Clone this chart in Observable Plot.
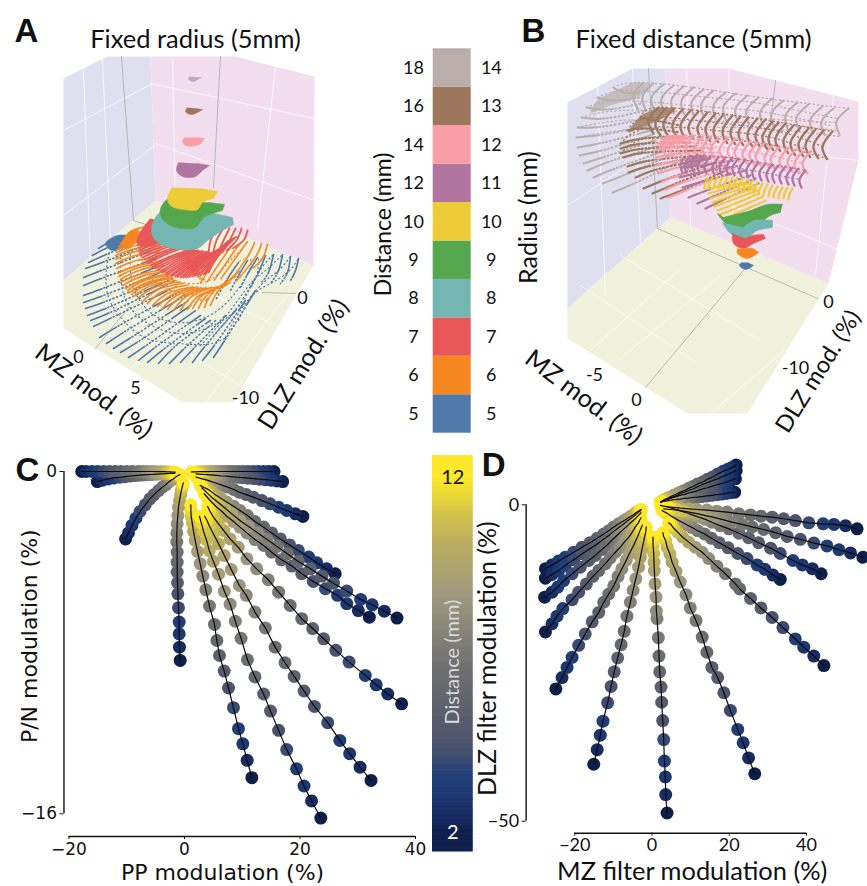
<!DOCTYPE html>
<html><head><meta charset="utf-8">
<script src="https://cdn.jsdelivr.net/npm/d3@7"></script>
<script src="https://cdn.jsdelivr.net/npm/@observablehq/plot@0.6"></script>
<style>
html,body{margin:0;padding:0;background:#fff}
#fig{position:relative;width:867px;height:886px;overflow:hidden}
#fig svg{position:absolute;overflow:visible;background:transparent}
</style></head><body><div id="fig"></div>
<script>
// ---------- shared category lists ----------
const legendLeft  = ["5","6","7","8","9","10","12","14","16","18"];
const legendRight = ["5","6","7","8","9","10","11","12","13","14"];
const shellColors = ["#4e79a9","#f68620","#e85858","#74b6b1","#55a74d","#eecb38","#b176a0","#f99da9","#9d775d","#b9aeaa"];
const wallLeft="#dfdff0", wallRight="#f2deee", wallFloor="#f0f2dd";
const distances = [2,2.5,3,3.5,4,4.5,5,5.5,6,6.5,7,7.5,8,8.5,9,9.5,10,10.5,11,11.5,12];
const cmapDomain = [2,2.2,3.15,3.6,4.2,4.9,6.7,8.6,10,11,11.6,12];
const cmapRange = ["#0f1f4c","#14265a","#1f3a74","#233f78","#45506f","#54596b","#707170","#9e9880","#b8ab62","#d6c648","#efdc30","#fde82a"];

// ---------- panel C: PP modulation (x) / P/N modulation (y), one row per ray, 2 mm → 12 mm ----------
const cX = [
[-17.8,-17,-16,-15,-14,-13,-12,-11,-10,-9,-8,-7.2,-6.4,-5.6,-4.9,-4.2,-3.6,-3,-2.5,-2,-1.6],
[-15.1,-14.2,-13.2,-12.2,-11.2,-10.3,-9.4,-8.6,-7.8,-7.1,-6.4,-5.8,-5.2,-4.7,-4.2,-3.7,-3.3,-2.9,-2.5,-2.1,-1.7],
[-10.2,-9.7,-9.1,-8.4,-7.7,-6.8,-6,-5.3,-4.5,-3.8,-3.2,-2.8,-2.4,-2,-1.7,-1.5,-1.3,-1.1,-1,-.9,-.8],
[-.75,-.87,-.92,-.92,-1.04,-1.15,-1.21,-1.27,-1.27,-1.27,-1.33,-1.33,-1.27,-1.15,-1.04,-.87,-.69,-.55,-.4,-.29,-.2],
[11.66,10.85,10.1,9.35,8.48,7.62,6.87,6.06,5.6,5.19,4.33,3.69,3.17,2.71,2.25,1.85,1.56,1.33,1.15,1.1,1.1],
[23.6,22,20.7,19.4,17.7,16.3,14.9,13.7,12.2,10.9,9.8,8.8,7.9,6.9,5.9,5,4.3,3.8,3.3,2.9,2.6],
[32.3,30.4,28.6,26.9,24.8,22.5,20.7,19,17.4,15.7,14,12.2,10.7,9.5,8.1,6.9,5.9,5,4.3,3.9,3.5],
[37.6,35.2,33.2,31.3,28.5,26.2,24.1,22.2,20.3,18.3,16.3,14.5,12.5,10.8,9.3,7.9,6.8,5.9,5,4.4,4],
[36.8,34.6,32.5,30.5,28.1,25.8,23.8,21.8,19.7,17.8,16,14.3,12.7,11.1,9.6,8.2,7,5.9,4.8,3.9,3],
[32,30.1,28.1,26.5,24.4,22.3,20.3,18.6,16.8,15.1,13.7,12.2,10.8,9.6,8.5,7.3,6.5,5.6,4.8,4.1,3.4],
[26.1,24.6,22.9,21.5,19.7,18.2,16.6,15.1,13.7,12.2,10.9,9.6,8.5,7.3,6.3,5.3,4.6,3.9,3.4,3,2.7],
[20.5,19.2,17.7,16.3,14.8,13.4,11.9,10.7,9.5,8.5,7.5,6.6,5.7,5,4.3,3.8,3.3,2.9,2.5,2.3,2],
[17,16,15,14,13,12,11,10,9.2,8.4,7.6,6.9,6.2,5.6,5,4.5,4,3.5,3,2.5,2],
[15.5,14.6,13.7,12.8,11.9,11,10.2,9.4,8.6,7.9,7.2,6.5,5.9,5.3,4.7,4.1,3.6,3,2.5,1.9,1.2]
];
const cY = [
[0,0,0,0,0,0,0,0,0,0,0,0,0,0,-.01,-.01,-.01,-.02,-.02,-.03,-.03],
[-.47,-.41,-.35,-.3,-.27,-.24,-.21,-.19,-.17,-.16,-.15,-.14,-.13,-.12,-.11,-.11,-.1,-.1,-.09,-.09,-.09],
[-3.15,-2.87,-2.52,-2.18,-1.87,-1.56,-1.28,-1.09,-.89,-.73,-.61,-.5,-.42,-.36,-.3,-.25,-.22,-.19,-.17,-.16,-.14],
[-8.83,-8.21,-7.59,-7.04,-6.37,-5.72,-5.2,-4.7,-4.24,-3.77,-3.3,-2.87,-2.45,-2.06,-1.67,-1.36,-1.09,-.89,-.73,-.62,-.53],
[-14.31,-13.5,-12.73,-12.02,-11.04,-10.12,-9.33,-8.6,-7.9,-7.15,-6.29,-5.53,-4.89,-4.31,-3.74,-3.22,-2.8,-2.4,-2.09,-1.82,-1.56],
[-16.2,-15.4,-14.7,-13.9,-13,-12.1,-11.2,-10.4,-9.6,-8.8,-7.8,-7,-6.2,-5.6,-4.8,-4.2,-3.7,-3.2,-2.8,-2.4,-2.1],
[-14.44,-13.82,-13.19,-12.57,-11.74,-10.98,-10.26,-9.58,-8.94,-8.21,-7.31,-6.57,-5.79,-5.33,-4.58,-3.93,-3.38,-2.91,-2.55,-2.29,-2.09],
[-10.86,-10.4,-9.97,-9.53,-8.91,-8.36,-7.82,-7.34,-6.88,-6.26,-5.64,-5.06,-4.55,-4.08,-3.54,-3.15,-2.76,-2.45,-2.13,-1.85,-1.64],
[-6.85,-6.53,-6.23,-5.98,-5.59,-5.22,-4.89,-4.55,-4.21,-3.85,-3.5,-3.18,-2.87,-2.57,-2.29,-1.98,-1.71,-1.46,-1.23,-1,-.76],
[-6.81,-6.5,-6.18,-5.79,-5.48,-5.14,-4.78,-4.42,-4.13,-3.77,-3.46,-3.18,-2.87,-2.6,-2.34,-2.09,-1.87,-1.67,-1.46,-1.25,-1.04],
[-4.78,-4.55,-4.27,-4,-3.69,-3.43,-3.15,-2.87,-2.6,-2.34,-2.06,-1.82,-1.62,-1.43,-1.25,-1.08,-.93,-.81,-.75,-.69,-.65],
[-2.1,-1.98,-1.82,-1.67,-1.51,-1.36,-1.2,-1.08,-.97,-.84,-.73,-.65,-.56,-.5,-.44,-.39,-.36,-.33,-.3,-.28,-.26],
[-.47,-.44,-.41,-.38,-.36,-.33,-.31,-.29,-.27,-.25,-.23,-.21,-.2,-.18,-.17,-.16,-.15,-.14,-.13,-.12,-.11],
[0,0,0,0,0,0,0,0,0,0,0,0,0,0,0,-.01,-.01,-.01,-.01,-.02,-.02]
];

// ---------- panel D: MZ filter modulation (x) / DLZ filter modulation (y) ----------
const dX = [
[3.89,3.54,3.45,3.2,3.02,2.76,2.5,2.33,1.99,1.81,1.64,1.3,1.12,1.04,.78,.6,.52,.43,.26,.26,.26],
[26.6,25,23.6,22.2,20.3,18.6,17,15.5,14.2,13,11.4,9.9,8.8,7.3,6.2,5.2,4.6,3.9,3.5,3,2.8],
[44.5,41.9,39.3,37.1,33.9,31.1,28.2,25.5,22.7,21.6,19,16.8,14.7,13,11.2,9.5,7.9,6.6,5.6,5,4.3],
[33.2,31.3,29.2,27.2,24.6,22.2,19.7,17.4,15.4,13.6,11.8,10.4,9.1,7.8,6.7,5.6,4.7,4.1,3.5,3,2.6],
[43.8,41.5,38.9,36.5,33.2,30.7,27.6,25,22.5,19.9,17.7,15.5,13.8,12.1,10.4,9.1,7.8,6.7,5.6,4.7,4.1],
[54.6,51.4,48.4,45.3,41.9,38.4,35,32,28.9,25.9,23.3,20.7,18.1,16,13.8,11.7,9.9,8.2,6.5,4.7,3],
[53.1,50.1,47.1,44.3,40.6,37.1,34.1,31.1,28.2,25.5,22.5,19.4,16.8,14.2,11.7,9.5,7.3,5.6,4.1,3,2.2],
[21.8,20.7,19.6,18.4,17,15.7,14.4,13.1,11.8,10.6,9.5,8.4,7.3,6.5,5.6,4.7,4.1,3.5,3,2.6,2.2],
[21.8,20.7,19.6,18.4,17,15.7,14.4,13.1,11.8,10.6,9.5,8.4,7.3,6.5,5.6,4.7,4.1,3.5,3,2.6,2.2],
[21.6,20.5,19.4,18.2,16.9,15.6,14.3,13,11.7,10.5,9.4,8.3,7.2,6.4,5.5,4.7,4,3.5,3,2.5,2.2],
[21.4,20.3,19.2,18,16.8,15.5,14.2,12.9,11.6,10.4,9.3,8.2,7.1,6.3,5.4,4.6,4,3.4,2.9,2.5,2.2],
[-15.1,-14.2,-13.4,-12.7,-11.5,-10.6,-9.8,-8.9,-8,-7.2,-6.5,-5.6,-4.9,-4.2,-3.5,-3,-2.6,-2.2,-1.9,-1.6,-1.5],
[-24.9,-23.3,-22,-20.7,-19,-17.3,-15.5,-13.8,-12.5,-11.2,-9.9,-8.8,-7.8,-6.7,-5.9,-5,-4.3,-3.7,-3.2,-2.85,-2.5],
[-27.6,-25.9,-24.6,-23.1,-20.7,-19,-17,-15.3,-13.8,-12.1,-10.8,-9.5,-8.2,-7.2,-6,-5.2,-4.6,-4.1,-3.5,-3.2,-2.85],
[-27.8,-25.9,-24.4,-22.9,-20.7,-18.6,-16.4,-14.7,-13,-11.7,-10.4,-9.1,-8,-6.9,-6,-5.4,-4.7,-4.1,-3.7,-3.3,-2.85],
[-27.6,-25.9,-24.2,-22.5,-20.3,-18.1,-16.1,-14.2,-12.5,-11.2,-9.9,-8.6,-7.5,-6.5,-5.6,-4.9,-4.3,-3.9,-3.5,-3.1,-2.85],
[-27.6,-25.9,-24.2,-22.5,-20.3,-18.1,-16.1,-14.2,-12.5,-11.2,-9.9,-8.6,-7.5,-6.5,-5.6,-4.9,-4.3,-3.9,-3.5,-3.1,-2.85]
];
const dY = [
[-48.7,-45.8,-43,-40.5,-37.1,-34.1,-31.2,-28.8,-26.4,-23.9,-21,-18,-16.8,-14.6,-12.5,-10.4,-9.06,-7.7,-6.4,-5.6,-5.1],
[-42.5,-40,-37.6,-35.5,-32.5,-29.7,-27.3,-25.7,-23.3,-20.9,-18.3,-16.3,-14.2,-12.2,-10.5,-9.06,-7.75,-6.7,-5.6,-5,-4.4],
[-25.4,-23.9,-22.5,-21.2,-19.4,-17.8,-16.3,-14.8,-13.3,-12.5,-10.9,-9.7,-8.5,-7.5,-6.7,-5.9,-5.1,-4.3,-3.7,-3.2,-2.85],
[-11.8,-11.1,-10.2,-9.5,-8.5,-7.7,-6.8,-6,-5.3,-4.6,-4.1,-3.6,-3.2,-2.75,-2.4,-2,-1.7,-1.4,-1.2,-1.05,-.9],
[-10.9,-10.1,-9.5,-8.8,-7.7,-6.85,-6,-5.2,-4.5,-3.8,-3.3,-2.75,-2.3,-1.95,-1.6,-1.3,-1.05,-.84,-.63,-.47,-.37],
[-8.3,-7.6,-7.1,-6.5,-6.05,-5.45,-5,-4.4,-3.9,-3.5,-3.1,-2.75,-2.3,-2,-1.7,-1.4,-1.2,-1,-.84,-.74,-.63],
[-3.8,-3.3,-3.1,-3,-2.85,-2.5,-2.2,-1.95,-1.8,-1.6,-1.4,-1.15,-1,-.84,-.74,-.63,-.53,-.42,-.32,-.21,-.1],
[6.3,5.9,5.6,5.3,4.85,4.4,4.05,3.6,3.3,2.9,2.6,2.25,2,1.75,1.5,1.25,1.05,.9,.74,.58,.42],
[5.4,5.1,4.8,4.5,4.1,3.85,3.5,3.2,2.85,2.5,2.25,2,1.75,1.5,1.3,1.1,.95,.8,.7,.58,.42],
[4.1,3.9,3.6,3.4,3.2,2.95,2.7,2.5,2.2,2,1.85,1.6,1.5,1.3,1.15,1,.84,.74,.63,.53,.42],
[2,1.9,1.8,1.7,1.6,1.5,1.4,1.3,1.2,1.15,1.05,1,.9,.84,.8,.7,.63,.58,.53,.47,.42],
[-41,-38.7,-36.4,-34.2,-31.3,-28.7,-26.4,-24.2,-22.1,-20,-17.6,-15.4,-13.5,-11.7,-9.85,-8.3,-7,-5.9,-5,-4.2,-3.5],
[-29.1,-27.3,-25.7,-24.1,-22.2,-20.4,-18.5,-17,-15.4,-14.1,-12.8,-11.3,-10.1,-8.8,-7.75,-6.7,-5.8,-5,-4.2,-3.7,-3.2],
[-20.1,-18.8,-17.6,-16.4,-15,-13.8,-12.5,-11.3,-10.4,-9.3,-8.4,-7.5,-6.7,-5.9,-5.1,-4.4,-3.8,-3.3,-2.85,-2.4,-2.05],
[-14.6,-13.8,-13,-12,-10.9,-9.85,-8.8,-8,-7.06,-6.4,-5.6,-4.85,-4.2,-3.6,-3.1,-2.75,-2.4,-2.05,-1.8,-1.55,-1.26],
[-11.6,-11,-10.4,-9.6,-8.7,-7.75,-6.95,-6.2,-5.4,-4.85,-4.2,-3.6,-3.1,-2.6,-2.2,-1.9,-1.6,-1.4,-1.15,-1,-.84],
[-10.1,-9.5,-8.9,-8.3,-7.5,-6.7,-6,-5.3,-4.6,-4.1,-3.5,-3,-2.6,-2.2,-1.85,-1.6,-1.3,-1.15,-1,-.84,-.74]
];

// ---------- panels A and B: projected (view-plane) outlines ----------
const aWalls = [
 [wallLeft,[63,78,107,56,150,56,155,200,63,280]],
 [wallRight,[150,56,235,56,314,76,313,265,155,200]],
 [wallFloor,[155,200,313,265,233,402,182,402,63,328,63,280]]];
const aGridWhite = [[172,58,175,208],[275,66,257,230],[150,83,314,118],[155,143,314,200],[83,68,90,265],[102,58,110,240],[63,130,152,83],[63,215,154,145],[110,352,200,270],[205,402,290,290],[127,370,215,290],[100,300,240,385],[135,255,275,325]];
const aGridGray = [[121,56,133,220],[220,56,213,187],[133,220,145,224],[262,292,295,293],[95,348,128,307]];
const aBlue = [[98,248,112,240,125,235],[92,255,110,246,135,238],[88,262,108,253,140,240],[85,268,107,260,145,245],[83,277,106,268,150,250],[83,285,106,276,155,258],[83,295,107,286,160,265],[83,302,108,293,165,270],[85,308,110,299,170,275],[87,315,112,305,172,278],[90,320,114,310,175,280],[93,326,118,314,178,285],[99,337,124,322,182,290],[106,343,131,327,185,295],[113,348,137,333,188,300],[120,352,144,337,190,305],[128,357,150,342,195,310],[138,360,160,343,200,315],[147,362,168,345,205,318],[158,363,178,343,210,320],[169,363,187,345,215,320],[180,362,197,344,225,315],[192,362,206,344,235,310],[202,360,216,342,245,300],[213,357,226,337,255,290],[298,258,295,270,290,280],[290,256,287,272,280,283],[282,254,278,270,270,283],[273,254,268,272,260,283],[265,255,258,272,250,287],[257,257,248,272,240,287],[247,260,238,275,230,290],[238,262,226,280,215,300]];
const aBlueRings = [[112,240,106,268,107,293,118,314,144,337,178,343,206,344,226,337],[122,240,120,265,122,290,132,310,155,327,185,333,212,325,235,310,250,287,257,272,258,258],[130,245,130,270,135,292,150,312,175,322,205,317,230,298,248,272,250,258],[213,335,238,305,258,272,273,254],[200,345,226,315,250,283,265,270,282,254],[225,337,240,310,262,283,278,270,290,256],[238,320,252,295,270,283,287,272,298,258]];
const aOrange = [[128,233,145,226,170,225],[124,238,142,231,172,230],[120,243,140,236,175,235],[118,246,141,238,176,237],[117,249,140,241,178,240],[116,252,140,244,179,242],[115,255,140,247,180,244],[115,259,140,250,182,247],[115,263,140,254,185,250],[116,268,141,259,188,254],[117,273,142,264,190,258],[118,276,143,266,191,260],[120,279,145,268,192,262],[120,282,147,272,195,266],[122,285,148,274,196,268],[125,288,149,277,198,270],[127,290,151,278,199,272],[129,292,153,280,200,274],[131,294,155,281,201,276],[133,296,157,283,203,278],[137,298,160,285,204,279],[142,301,163,287,206,280],[147,303,167,289,209,282],[152,305,172,291,212,284],[157,306,176,292,213,284],[162,308,180,293,215,285],[167,309,184,294,217,285],[173,310,189,294,220,285],[180,310,194,294,222,285],[187,309,199,295,225,285],[192,308,203,294,227,284],[198,308,208,293,230,282],[204,307,213,291,235,276],[210,305,219,289,240,270],[267,244,262,258,252,268],[261,243,254,258,228,290],[254,242,246,258,222,290],[247,241,232,262,205,300],[240,242,226,262,200,300],[233,243,218,264,195,300],[226,245,212,264,190,298]];
const aOrangeRings = [[145,226,140,250,147,272,163,287,189,294,208,293,219,289,235,265,246,258],[160,230,155,255,165,275,190,283,212,278,228,262,240,250]];
const aRed = [[138,235,160,226,185,218],[137.5,237.5,160,228.5,185,221],[137,240,160,231,185,224],[137,242.5,160,233.5,186,226],[137,245,160,236,188,229],[137.5,247.5,161,238.5,189,231],[138,250,162,241,190,234],[139,252.5,163,243,191,236],[140,255,165,245,192,238],[142,257,166,247,193,239],[144,259,168,249,194,241],[145.5,261,169,250.5,195,242],[147,263,170,252,196,244],[150,265,172,255,198,247],[152,266.5,174,256,199,248],[155,268,176,257,200,249],[157,269.5,178,258,201,249],[160,271,180,259,203,250],[162,272,182,260,204,250],[165,273,184,261,206,251],[167,274,186,261.5,207,251],[170,275,188,262,208,252],[172,275.5,190,262.5,210,252],[175,276,192,263,212,252],[177,276.5,194,263,214,251],[180,277,196,263,216,250],[183,277,198,263,218,249],[186,277,200,263,220,248],[189,276.5,202,262.5,222,246],[192,276,205,262,224,245],[194,275.5,207,261,226,242],[197,275,210,260,228,240],[200,274.5,212,259,230,239],[203,274,214,258,232,238],[205,273,216,256,234,237],[208,272,218,255,236,236],[247,230,243,240,232,248],[241,228,236,240,226,250],[235,228,229,240,222,252],[229,228,223,240,217,254],[223,228,216,240,212,256],[217,229,210,240,208,258]];
const aSolids = [
 [0,[127,235,117,235,105,243,112,250,125,243]],
 [1,[138,227,128,232,121,245,128,248,138,238]],
 [2,[150,218,138,235,137,243,148,246,165,235,175,225]],
 [3,[163,208,155,217,151,227,153,237,163,245,180,249,197,248,207,240,217,233,233,224,233,224,232,217,232,217,213,213]],
 [4,[166,199,160,208,161,217,170,225,183,228,195,227,203,217,222,210,222,210,224,204,224,204,208,202]],
 [5,[172,187,172,187,167,197,170,205,183,209,197,209,202,202,213,198,213,198,217,191,217,191,200,188]],
 [6,[178,162,176,170,182,176,195,176,202,170,209,165,209,165,197,163]],
 [7,[185,137,182,140,185,145,195,145,200,143,204,138,204,138,195,137]],
 [8,[187,107,185,111,190,114,195,113,202,109,202,109,195,108]],
 [9,[189,76,188,79,193,81,197,79,201,77,201,77]]];

const bWalls = [
 [wallLeft,[567,102,632,68,665,68,670,217,657,228,567,308]],
 [wallRight,[665,68,728,68,858,101,858,160,828,283,670,217]],
 [wallFloor,[657,228,670,217,828,283,747,413,687,413,567,338,567,308]]];
const bGridWhite = [[686,68,690,225],[728,68,733,243],[833,95,815,275],[668,138,858,160],[670,180,840,250],[597,87,605,295],[632,68,640,243],[567,205,668,138],[620,358,720,275],[710,413,790,345],[590,350,680,268],[580,285,700,365],[620,255,760,340]];
const bGridGray = [[648,68,657,228],[775,80,767,150],[657,228,817,298],[743,270,645,387]];
const bTanHump = [632,82,650,84,640,95,610,105,590,112,598,98];
const bBrownHump = [657,107,675,109,662,118,640,127,628,132,640,115];
const bPinkHump = [672,134,690,136,678,143,665,147,658,147,662,138];
const bPurpleHump = [695,155,708,157,698,164,690,168,685,168,688,159];
const bTan = [[848,108,836,121,840,136],[833,108,821,121,825,136],[822,106,810,119,813,134],[808,104,796,117,800,132],[797,102,785,115,788,130],[783,100,771,113,774,128],[772,98,760,111,763,126],[758,97,746,110,749,125],[747,95,735,108,738,123],[735,93,723,106,726,121],[725,92,713,105,716,120],[713,90,701,103,704,118],[703,89,691,102,694,117],[693,87,681,100,684,115],[683,86,671,99,674,114],[673,85,661,98,664,113],[663,84,651,97,655,112],[653,83,642,96,646,111],[643,82,633,95,638,110]];
const bTanLeft = [[612,192,640,180,680,160],[602,183,630,172,670,155],[593,177,620,166,665,150],[587,170,612,160,660,145],[583,163,608,155,655,140],[579,155,605,149,650,135],[577,147,603,142,650,130],[576,137,603,134,648,125],[577,127,603,126,645,118],[581,117,605,118,645,110],[586,107,607,109,640,103],[597,97,612,100,640,97],[613,87,623,92,640,92]];
const bTanRows = [[613,87,640,82,700,88,760,97,848,108],[597,97,630,90,700,96,760,103,836,118],[586,107,620,100,690,105,760,111,830,125],[581,117,620,110,690,112,760,118,836,122],[577,127,620,120,680,120,760,123,838,130],[576,137,620,130,680,127,760,128,840,136]];
const bBrown = [[832,131,822,146,827,159],[823,130,813,145,818,158],[815,129,805,144,810,157],[808,128,798,143,803,156],[800,127,790,142,795,155],[793,125,783,140,788,153],[785,123,775,138,780,151],[778,122,768,137,773,150],[772,121,762,136,767,149],[765,119,755,134,760,147],[757,118,747,133,752,146],[748,117,738,132,743,145],[740,116,730,131,735,144],[732,115,722,130,727,143],[723,114,713,129,718,142],[715,113,705,128,710,141],[707,112,697,127,702,140],[698,111,688,126,693,139],[690,110,680,125,685,138],[682,109,672,124,677,137],[673,108,663,123,668,136],[665,108,655,122,660,135],[658,107,648,120,653,133]];
const bBrownLeft = [[640,117,650,119,680,125],[627,130,645,128,680,132],[620,143,642,138,685,137],[620,148,643,143,690,142],[620,153,644,148,695,146],[623,157,646,152,700,150],[627,166,650,160,700,155],[628,172,652,165,705,155],[635,177,660,168,710,158],[643,188,668,178,715,162],[652,193,678,182,720,165],[660,198,686,188,725,170]];
const bBrownRows = [[640,117,658,107,720,113,780,122,832,131],[627,130,650,117,715,122,775,130,822,146],[620,143,650,127,715,130,775,138,827,159],[620,153,650,137,715,138,775,145,815,155]];
const bPink = [[810,151,802,163,807,173],[802,151,794,163,799,173],[795,149,787,161,792,171],[787,148,779,160,784,170],[778,147,770,159,775,169],[772,145,764,157,769,167],[763,143,755,155,760,165],[757,142,749,154,754,164],[750,141,742,153,747,163],[742,139,734,151,739,161],[735,138,727,150,732,160],[727,137,719,149,724,159],[718,137,710,149,715,159],[710,136,702,148,707,158],[702,136,694,148,699,158],[693,135,685,147,690,157],[685,135,677,147,682,157],[677,135,669,147,674,157],[668,135,662,146,666,156]];
const bPinkLeft = [[668,197,690,188,730,172],[665,189,688,180,730,168],[662,181,686,173,728,164],[658,173,682,166,725,160],[656,165,680,160,722,156],[655,157,678,153,718,152],[654,150,676,147,715,148],[656,143,675,141,712,144],[660,138,675,138,708,140]];
const bPinkRows = [[660,138,680,135,730,137,770,145,810,151],[655,150,680,145,730,148,770,155,802,163],[655,160,680,155,730,157,770,165,807,173]];
const bPurple = [[805,170,799,179,801,187],[798,168,792,177,794,185],[792,167,786,176,788,184],[785,166,779,175,781,183],[778,165,772,174,774,182],[772,164,766,173,768,181],[765,163,759,172,761,180],[758,162,752,171,754,179],[752,160,746,169,748,177],[745,159,739,168,741,176],[738,158,732,167,734,175],[732,157,726,166,728,174],[725,157,719,166,721,174],[718,157,712,166,714,174],[710,156,704,165,706,173],[703,155,697,164,699,172],[697,154,691,163,693,171],[690,155,684,164,686,172],[683,158,680,165,682,172]];
const bPurpleLeft = [[705,208,728,197,760,182],[697,203,722,192,755,178],[688,197,714,187,750,175],[682,187,706,180,745,170],[679,177,700,172,740,165],[682,167,700,165,735,160]];
const bPurpleRows = [[682,167,700,156,740,159,805,170],[680,175,700,165,740,168,799,179]];
const bYellow = [[792,188,789,194,788,199],[787,187,784,193,783,198],[782,187,779,193,778,198],[777,186,774,192,773,197],[772,185,769,191,768,196],[767,184,764,190,763,195],[762,183,759,189,758,194],[757,182,754,188,753,193],[752,180,749,186,748,191],[747,179,744,185,743,190],[742,178,739,184,738,189],[737,177,734,183,733,188],[732,177,729,183,728,188],[727,177,724,183,723,188],[722,177,719,183,718,188],[717,177,714,183,713,188],[712,177,709,183,708,188],[707,178,705,183,704,188]];
const bYellowLeft = [[723,218,745,209,770,198],[720,214,742,205,767,194],[717,210,740,201,765,190],[714,206,738,197,762,188],[712,202,735,194,758,187],[710,198,732,191,755,185],[708,193,730,187,750,183],[707,188,726,185,745,182]];
const bSolids = [
 [4,[782,204,782,204,767,204,750,210,723,217,723,217,717,213,725,223,733,228,747,228,760,222,770,215,780,212,780,212]],
 [3,[722,222,730,233,745,238,757,230,772,227,772,227,772,220,772,220,753,220,743,227]],
 [2,[732,233,733,243,743,248,753,243,765,238,765,238,763,234,763,234,752,235,745,238]],
 [1,[737,248,737,253,747,258,758,252,758,252,752,248,745,248]],
 [0,[741,262,739,265,745,269,753,265,753,265,747,262]]];

// ---------- helpers ----------
const fig = document.getElementById("fig");
function place(svg,left,top){svg.style.left=left+"px";svg.style.top=top+"px";fig.appendChild(svg);}
const rayRows=(X,Y)=>X.flatMap((xs,r)=>xs.map((x,i)=>({ray:r,d:distances[i],x,y:Y[r][i]})));
const ptsOf=(flat,id)=>{const o=[];for(let i=0;i<flat.length;i+=2)o.push({x:flat[i],y:flat[i+1],s:id});return o;};
const strandRows=list=>list.flatMap((s,i)=>ptsOf(s,i));
const poly=(flat,fill)=>Plot.line(ptsOf(flat,0),{x:"x",y:"y",fill,stroke:"none",curve:"linear"});
const solid=(flat,fill,op=1)=>Plot.line(ptsOf(flat,0),{x:"x",y:"y",fill,fillOpacity:op,stroke:op<1?"none":fill,strokeWidth:.6,curve:"catmull-rom"});
const seg=(list,stroke,w)=>Plot.line(strandRows(list),{x:"x",y:"y",z:"s",stroke,strokeWidth:w,curve:"linear"});
const strands=(list,stroke,w,dash)=>Plot.line(strandRows(list),{x:"x",y:"y",z:"s",stroke,strokeWidth:w,strokeDasharray:dash,curve:"natural"});
const txt=(s,x,y,o)=>Plot.text([s],{x:()=>x,y:()=>y,text:d=>d,lineAnchor:"middle",textAnchor:"middle",fill:"#111",...o});
const UI="Lato", MONO="DejaVu Sans";
const dots="2 1.1 2.4 1.1 2.6 1.1 2.8 1.1 3 1.1 3 1.1 3 1.1 3 1.1 3 1.1 3 1.1 3";
const dashBlue="20 "+dots, dashDense="24 1 1 1.2 1 1.2 1 1.2 1 1.2 1 1.2 1 1.2 1 1.2 1 1.2 1 1.2 1", dashArc="32 "+dots, ringDots="1.1 3.2";

// ---------- panel A ----------
place(Plot.plot({width:360,height:445,margin:0,axis:null,
  x:{domain:[0,360],range:[0,360]},y:{domain:[0,445],range:[0,445]},
  marks:[
    ...aWalls.map(([c,f])=>poly(f,c)),
    seg(aGridWhite,"#ffffff",.7),seg(aGridGray,"#a9a9a9",.8),
    solid(aSolids[0][1],shellColors[0]),strands(aBlueRings,shellColors[0],1.2,ringDots),strands(aBlue,shellColors[0],1.6,dashBlue),
    solid(aSolids[1][1],shellColors[1]),strands(aOrangeRings,shellColors[1],1.2,ringDots),strands(aOrange,shellColors[1],1.6,dashDense),
    solid(aSolids[2][1],shellColors[2]),strands(aRed,shellColors[2],1.8,dashDense),
    ...aSolids.slice(3).map(([i,f])=>solid(f,shellColors[i])),
    txt("A",26,31,{fontFamily:"Liberation Sans",fontWeight:"bold",fontSize:33}),
    txt("Fixed radius (5mm)",195,39,{fontFamily:UI,fontSize:25.5}),
    txt("0",78,357,{fontFamily:UI,fontSize:18}),txt("5",135,388,{fontFamily:UI,fontSize:18}),
    txt("-10",245,398,{fontFamily:UI,fontSize:18}),txt("0",302,298,{fontFamily:UI,fontSize:18}),
    txt("MZ mod. (%)",93,391,{fontFamily:UI,fontSize:25,rotate:37}),
    txt("DLZ mod. (%)",303,364,{fontFamily:UI,fontSize:25,rotate:-58})
  ]}),0,0);

// ---------- panel B ----------
place(Plot.plot({width:367,height:445,margin:0,axis:null,
  x:{domain:[500,867],range:[0,367]},y:{domain:[0,445],range:[0,445]},
  marks:[
    ...bWalls.map(([c,f])=>poly(f,c)),
    seg(bGridWhite,"#ffffff",.7),seg(bGridGray,"#a9a9a9",.8),
    solid(bTanHump,shellColors[9],.7),strands(bTanRows,shellColors[9],1.3,ringDots),strands(bTan,shellColors[9],2.1,dashArc),strands(bTanLeft,shellColors[9],2,dashBlue),
    solid(bBrownHump,shellColors[8],.8),strands(bBrownRows,shellColors[8],1.3,ringDots),strands(bBrown,shellColors[8],2.4,dashArc),strands(bBrownLeft,shellColors[8],2.2,dashBlue),
    solid(bPinkHump,shellColors[7],.8),strands(bPinkRows,shellColors[7],1.3,ringDots),strands(bPink,shellColors[7],2.3,dashArc),strands(bPinkLeft,shellColors[7],2.2,dashBlue),
    solid(bPurpleHump,shellColors[6],.8),strands(bPurpleRows,shellColors[6],1.3,ringDots),strands(bPurple,shellColors[6],2.3,"20 1.2 1 1.2 1 1.2"),strands(bPurpleLeft,shellColors[6],2.2,dashBlue),
    strands(bYellow,shellColors[5],2.2,"14 1 1 1"),strands(bYellowLeft,shellColors[5],2.1,dashDense),
    ...bSolids.map(([i,f])=>solid(f,shellColors[i])),
    txt("B",533,31,{fontFamily:"Liberation Sans",fontWeight:"bold",fontSize:33}),
    txt("Fixed distance (5mm)",693,39,{fontFamily:UI,fontSize:25.5}),
    txt("Radius (mm)",528,217,{fontFamily:UI,fontSize:25,rotate:-90}),
    txt("-5",594,375,{fontFamily:UI,fontSize:18}),txt("0",636,400,{fontFamily:UI,fontSize:18}),
    txt("0",828,302,{fontFamily:UI,fontSize:18}),txt("-10",795,368,{fontFamily:UI,fontSize:18}),
    txt("MZ mod. (%)",583,397,{fontFamily:UI,fontSize:25,rotate:37}),
    txt("DLZ mod. (%)",818,371,{fontFamily:UI,fontSize:23.5,rotate:-58})
  ]}),500,0);

// ---------- discrete legend ----------
const legendRows=legendLeft.map((l,i)=>({i,j:i+1,l,r:legendRight[i],c:shellColors[i],m:i+.5}));
place(Plot.plot({width:150,height:445,margin:0,axis:null,
  x:{domain:[0,1],range:[72.7,110.7]},y:{domain:[0,10],range:[432.7,48.3]},
  color:{type:"identity"},
  marks:[
    Plot.rect(legendRows,{x1:()=>0,x2:()=>1,y1:"i",y2:"j",fill:"c",inset:0}),
    Plot.text(legendRows,{x:()=>-.52,y:"m",text:"l",fontFamily:UI,fontSize:18,fill:"#111"}),
    Plot.text(legendRows,{x:()=>1.53,y:"m",text:"r",fontFamily:UI,fontSize:18,fill:"#111"}),
    txt("Distance (mm)",-1.3,5.43,{fontFamily:UI,fontSize:23,rotate:-90})
  ]}),360,0);

// ---------- shared colour scale ----------
const colorOpt={type:"linear",domain:cmapDomain,range:cmapRange,interpolate:"rgb",clamp:true};

// ---------- panel C ----------
const cRows=rayRows(cX,cY);
place(Plot.plot({width:425,height:441,marginLeft:63.5,marginBottom:50,marginTop:0,marginRight:0,
  x:{domain:[-20,40],range:[68.5,415]},y:{domain:[-16,0],range:[368.3,26]},color:colorOpt,
  style:{fontFamily:MONO,color:"#111",background:"transparent"},
  marks:[
    Plot.axisX({ticks:[-20,0,20,40],tickSize:3,tickPadding:3,fontSize:17,label:null}),
    Plot.axisY({ticks:[-16,0],tickSize:4,tickPadding:3,fontSize:17,label:null}),
    Plot.ruleX([-20.87],{y1:()=>-16,y2:()=>0,stroke:"#111",strokeWidth:1.4}),
    Plot.ruleY([-17.06],{x1:()=>-20,x2:()=>40,stroke:"#111",strokeWidth:1.4}),
    Plot.dot(cRows,{x:"x",y:"y",r:6.5,fill:"d",stroke:"none",sort:{channel:"fill"}}),
    Plot.line(cRows,{x:"x",y:"y",z:"ray",stroke:"#0a0a0a",strokeWidth:1.2}),
    txt("C",-27.2,.05,{fontFamily:"Liberation Sans",fontWeight:"bold",fontSize:33}),
    txt("PP modulation (%)",6.6,-18.76,{fontFamily:MONO,fontSize:22}),
    txt("P/N modulation (%)",-26.7,-7.7,{fontFamily:MONO,fontSize:22,rotate:-90})
  ]}),0,445);

// ---------- continuous colour bar ----------
const barSteps=d3.range(1.45,12.55,.05).map(d=>({d,e:d+.07}));
place(Plot.plot({width:50,height:441,margin:0,axis:null,
  x:{domain:[0,1],range:[7,47.7]},y:{domain:[2,12],range:[387,32]},color:colorOpt,
  marks:[
    Plot.rect(barSteps,{x1:()=>0,x2:()=>1,y1:"d",y2:"e",fill:"d",inset:0}),
    txt("12",.5,12,{fontFamily:UI,fontSize:20,fill:"#111"}),
    txt("2",.5,2,{fontFamily:UI,fontSize:20,fill:"#fff"}),
    txt("Distance (mm)",.5,6.8,{fontFamily:UI,fontSize:20,fill:"#d9d9d9",rotate:-90})
  ]}),425,445);

// ---------- panel D ----------
const dRows=rayRows(dX,dY);
place(Plot.plot({width:392,height:441,marginLeft:50.7,marginBottom:53.3,marginTop:0,marginRight:0,
  x:{domain:[-20,40],range:[99.3,331]},y:{domain:[-50,0],range:[375.7,59.3]},color:colorOpt,
  style:{fontFamily:UI,color:"#111",background:"transparent"},
  marks:[
    Plot.axisX({ticks:[-20,0,20,40],tickSize:3,tickPadding:2,fontSize:18,label:null}),
    Plot.axisY({ticks:[-50,0],tickSize:4,tickPadding:3,fontSize:18,label:null}),
    Plot.ruleX([-32.6],{y1:()=>-50,y2:()=>0,stroke:"#111",strokeWidth:1.4}),
    Plot.ruleY([-51.9],{x1:()=>-20,x2:()=>40,stroke:"#111",strokeWidth:1.4}),
    Plot.dot(dRows,{x:"x",y:"y",r:6.5,fill:"d",stroke:"none",sort:{channel:"fill"}}),
    Plot.line(dRows,{x:"x",y:"y",z:"ray",stroke:"#0a0a0a",strokeWidth:1.2}),
    txt("D",-41,6.2,{fontFamily:"Liberation Sans",fontWeight:"bold",fontSize:33}),
    txt("MZ filter modulation (%)",10.4,-58,{fontFamily:UI,fontSize:25.4}),
    txt("DLZ filter modulation (%)",-42.6,-24.3,{fontFamily:UI,fontSize:25,rotate:-90})
  ]}),475,445);
</script></body></html>
